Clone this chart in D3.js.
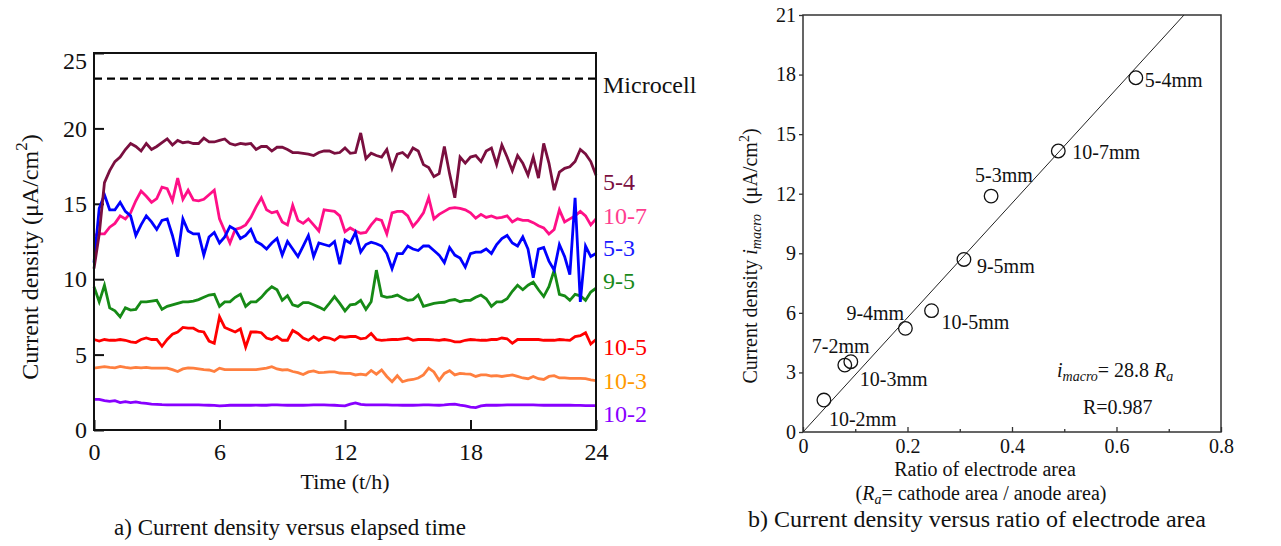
<!DOCTYPE html>
<html>
<head>
<meta charset="utf-8">
<script src="https://cdn.jsdelivr.net/npm/d3@7"></script>
<style>
  body { margin: 0; background: #fff; }
  svg { display: block; }
  text { font-family: "Liberation Serif", "Times New Roman", serif; fill: #111; }
</style>
</head>
<body>
<svg id="chart" width="1281" height="546"></svg>
<script>
// ---------- data: panel a (current density vs time, every 0.25 h) ----------
const hours = d3.range(0, 24.001, 0.25);
const microcell = 23.3;

const cur54 = [
  10.7, 13.0, 16.4, 17.2, 17.8, 18.1, 18.6, 19.0,
  18.8, 18.5, 19.0, 18.6, 18.8, 19.05, 19.3, 18.9,
  19.2, 19.05, 19.1, 19.0, 19.0, 19.35, 19.1, 19.1,
  19.2, 19.3, 19.0, 18.9, 19.0, 18.95, 19.0, 18.6,
  18.8, 18.8, 18.5, 18.75, 18.75, 18.6, 18.4, 18.4,
  18.35, 18.3, 18.2, 18.4, 18.5, 18.5, 18.35, 18.4,
  18.7, 18.35, 18.4, 19.7, 18.0, 18.35, 18.2, 18.1,
  18.6, 17.35, 18.3, 18.4, 18.1, 18.7, 18.5, 17.6,
  17.4, 16.8, 17.0, 18.8, 17.0, 15.4, 18.1, 17.7,
  18.1, 18.2, 17.8, 18.5, 18.7, 17.6, 18.9, 18.1,
  17.2, 18.2, 17.7, 16.9, 18.1, 16.7, 19.0, 17.7,
  15.9, 17.1, 17.35, 17.45, 17.8, 18.6, 18.3, 17.8,
  16.9];
const cur107 = [
  12.9, 13.0, 13.0, 13.45, 13.7, 14.2, 14.0, 14.4,
  15.2, 15.85, 15.5, 15.1, 15.35, 16.1, 16.0, 15.2,
  16.7, 15.3, 15.9, 15.25, 15.2, 15.3, 15.6, 15.9,
  14.0, 13.2, 12.4, 13.3, 13.4, 13.6, 14.1, 14.8,
  15.4, 14.6, 14.4, 14.5, 13.8, 13.6, 14.9, 13.9,
  13.7, 14.0, 13.6, 13.2, 14.6, 14.55, 14.5, 14.2,
  13.15, 13.4, 13.2, 13.05, 13.1, 13.6, 14.0, 13.9,
  13.0, 14.4, 14.5, 14.5, 14.2, 13.5, 13.9, 14.4,
  15.4, 14.0, 14.3, 14.5, 14.7, 14.75, 14.7, 14.6,
  14.4, 14.05, 14.3, 14.1, 14.2, 14.05, 14.1, 14.2,
  13.8, 14.0, 13.9, 13.9, 13.75, 13.55, 13.4, 13.0,
  13.3, 14.6, 13.8, 14.0, 14.2, 14.5, 14.2, 13.6,
  14.0];
const cur53 = [
  11.1, 14.7, 15.6, 14.6, 14.6, 15.1, 14.5, 14.2,
  12.9, 13.6, 14.2, 13.8, 13.3, 13.9, 14.0, 12.9,
  11.5, 14.0, 13.2, 13.0, 13.0, 11.6, 12.8, 13.1,
  12.4, 12.8, 13.5, 13.3, 12.7, 12.9, 13.3, 12.5,
  12.3, 12.0, 12.4, 12.7, 11.6, 12.5, 12.0, 11.5,
  12.2, 12.9, 11.5, 12.4, 12.3, 12.2, 12.5, 11.0,
  12.6, 12.4, 13.1, 11.8, 12.3, 12.45, 12.35, 12.2,
  11.7, 10.7, 11.7, 11.7, 12.2, 12.0, 11.9, 12.2,
  12.2, 11.9, 11.6, 11.1, 12.1, 11.6, 11.4, 10.8,
  11.7, 11.8, 11.8, 12.0, 11.7, 12.3, 12.7, 12.9,
  12.4, 12.2, 12.8, 12.0, 10.1, 12.0, 12.1, 11.2,
  10.6, 12.3, 11.5, 10.3, 15.4, 8.5, 12.2, 11.5,
  11.7];
const cur95 = [
  9.5, 8.5, 9.6, 8.1, 7.9, 7.5, 8.1, 7.95,
  8.0, 8.5, 8.5, 8.55, 8.6, 8.0, 8.2, 8.3,
  8.4, 8.5, 8.5, 8.55, 8.65, 8.8, 8.95, 9.0,
  8.2, 8.5, 8.5, 8.8, 9.0, 8.2, 8.5, 8.5,
  8.8, 9.2, 9.5, 9.3, 8.6, 8.9, 8.3, 8.2,
  8.45, 8.45, 8.3, 8.15, 7.97, 8.4, 8.85, 8.4,
  7.9, 8.3, 8.35, 8.6, 8.0, 8.5, 10.6, 8.9,
  8.8, 8.85, 8.95, 8.75, 8.6, 8.65, 8.95, 8.2,
  8.3, 8.4, 8.45, 8.47, 8.6, 8.65, 8.5, 8.6,
  8.6, 8.8, 8.95, 8.7, 8.2, 8.5, 8.5, 8.7,
  9.2, 9.6, 9.3, 9.6, 9.8, 9.3, 8.85, 9.5,
  10.6, 9.0, 8.9, 8.6, 9.0, 8.9, 8.6, 9.15,
  9.4];
const cur105 = [
  6.0, 5.9, 6.0, 5.95, 5.95, 6.0, 5.95, 5.85,
  5.8, 6.0, 6.1, 6.0, 6.0, 5.55, 6.0, 6.35,
  6.5, 6.8, 6.75, 6.75, 6.55, 6.5, 5.9, 5.75,
  7.5, 6.8, 6.65, 6.5, 6.7, 5.5, 6.5, 6.5,
  6.45, 6.1, 6.0, 6.2, 5.95, 5.95, 6.6, 6.4,
  6.1, 5.95, 6.2, 5.95, 6.15, 6.1, 5.95, 6.2,
  6.15, 6.2, 6.2, 6.05, 6.1, 6.4, 6.0, 5.95,
  5.97, 6.0, 6.0, 6.05, 6.1, 5.95, 6.0, 6.0,
  6.0, 5.97, 5.95, 6.0, 5.95, 5.85, 5.85, 5.95,
  6.0, 5.97, 5.95, 5.95, 6.0, 6.0, 6.1, 6.05,
  5.75, 6.0, 6.0, 6.0, 6.0, 6.0, 5.95, 5.95,
  5.95, 6.0, 5.97, 5.95, 6.2, 6.25, 6.45, 5.7,
  6.0];
const cur103 = [
  4.1, 4.15, 4.2, 4.15, 4.12, 4.22, 4.15, 4.1,
  4.15, 4.12, 4.15, 4.1, 4.1, 4.1, 4.1, 4.0,
  3.88, 4.05, 4.12, 4.1, 4.05, 4.0, 3.98, 3.88,
  4.1, 4.0, 4.0, 4.0, 4.0, 4.0, 4.0, 4.0,
  4.05, 4.1, 4.2, 4.05, 3.98, 4.0, 3.88, 3.8,
  3.68, 3.85, 3.92, 3.8, 3.82, 3.85, 3.85, 3.78,
  3.75, 3.75, 3.65, 3.7, 3.65, 3.95, 3.7, 3.98,
  3.55, 3.2, 3.6, 3.2, 3.3, 3.35, 3.45, 3.65,
  4.1, 3.85, 3.3, 3.75, 3.93, 3.65, 3.75, 3.72,
  3.7, 3.55, 3.65, 3.65, 3.58, 3.6, 3.55, 3.6,
  3.65, 3.55, 3.45, 3.4, 3.55, 3.4, 3.35, 3.55,
  3.6, 3.45, 3.45, 3.43, 3.43, 3.43, 3.4, 3.32,
  3.27];
const cur102 = [
  2.03, 2.03, 1.95, 1.9, 1.95, 1.82, 1.88, 1.82,
  1.86, 1.8, 1.77, 1.72, 1.7, 1.68, 1.67, 1.66,
  1.66, 1.67, 1.66, 1.66, 1.66, 1.65, 1.64, 1.63,
  1.6, 1.62, 1.64, 1.64, 1.64, 1.64, 1.64, 1.65,
  1.64, 1.64, 1.66, 1.66, 1.65, 1.64, 1.64, 1.65,
  1.64, 1.65, 1.66, 1.66, 1.66, 1.65, 1.64, 1.62,
  1.6, 1.72, 1.8, 1.7, 1.66, 1.66, 1.66, 1.66,
  1.66, 1.65, 1.65, 1.64, 1.64, 1.64, 1.65, 1.66,
  1.66, 1.65, 1.64, 1.66, 1.7, 1.72, 1.65, 1.6,
  1.52, 1.48, 1.6, 1.64, 1.64, 1.64, 1.65, 1.66,
  1.66, 1.66, 1.66, 1.66, 1.66, 1.65, 1.64, 1.64,
  1.64, 1.64, 1.64, 1.64, 1.63, 1.63, 1.62, 1.62,
  1.62];

const seriesNames = ["10-2", "10-3", "10-5", "9-5", "10-7", "5-3", "5-4"];
const seriesValues = [cur102, cur103, cur105, cur95, cur107, cur53, cur54];
const lineColors  = ["#8800ff", "#ff7f3f", "#ff0000", "#168a16", "#ff0f87", "#0000ff", "#7a0f3f"];
const labelColors = ["#8800ff", "#ff9a00", "#ff0000", "#1a8a1a", "#ff3d8f", "#1a1aff", "#7a0f3f"];
const labelLevels = [1.1, 3.3, 5.5, 9.9, 14.2, 12.1, 16.5];

// ---------- data: panel b (current density vs electrode area ratio) ----------
const pairNames = ["10-2mm", "7-2mm", "10-3mm", "9-4mm", "10-5mm", "9-5mm", "5-3mm", "10-7mm", "5-4mm"];
const areaRatio = [0.040, 0.080, 0.0915, 0.196, 0.246, 0.308, 0.360, 0.4886, 0.637];
const macroDensity = [1.61, 3.37, 3.54, 5.22, 6.11, 8.69, 11.88, 14.15, 17.84];
const fitSlope = 28.8;
const fitR = 0.987;

const svg = d3.select("#chart");

// =================== panel a ===================
const pa = { left: 94, right: 596, top: 53, bottom: 430 };
const x = d3.scaleLinear().domain([0, 24]).range([pa.left, pa.right]);
const y = d3.scaleLinear().domain([0, 25]).range([pa.bottom, pa.top]);

// axes with inward ticks
const gxa = svg.append("g")
  .attr("transform", "translate(0," + pa.bottom + ")")
  .call(d3.axisBottom(x).tickValues([0, 6, 12, 18, 24]).tickSize(-10).tickPadding(13));
const gya = svg.append("g")
  .attr("transform", "translate(" + pa.left + ",0)")
  .call(d3.axisLeft(y).tickValues([0, 5, 10, 15, 20, 25]).tickSize(-10).tickPadding(7));
[gxa, gya].forEach(g => {
  g.select(".domain").remove();
  g.selectAll(".tick line").attr("stroke", "#111").attr("stroke-width", 2);
  g.selectAll(".tick text").style("font-size", "24px").attr("fill", "#111");
});
gya.selectAll(".tick text").filter(d => d === 25).attr("dy", "0.65em");

// series
const line = d3.line().x((d, i) => x(hours[i])).y(d => y(d));
seriesValues.forEach((vals, k) => {
  svg.append("path")
    .datum(vals)
    .attr("d", line)
    .attr("fill", "none")
    .attr("stroke", lineColors[k])
    .attr("stroke-width", 2.8)
    .attr("stroke-linejoin", "miter");
});

// microcell reference
svg.append("line")
  .attr("x1", x(0)).attr("x2", x(24))
  .attr("y1", y(microcell)).attr("y2", y(microcell))
  .attr("stroke", "#000").attr("stroke-width", 2.4)
  .attr("stroke-dasharray", "8,5");

svg.append("rect")
  .attr("x", pa.left).attr("y", pa.top)
  .attr("width", pa.right - pa.left).attr("height", pa.bottom - pa.top)
  .attr("fill", "none").attr("stroke", "#111").attr("stroke-width", 2);

// right-hand labels
svg.append("text").attr("x", pa.right + 7).attr("y", y(microcell) + 6).attr("dy", "0.35em")
  .style("font-size", "24px").text("Microcell");
seriesNames.forEach((n, k) => {
  svg.append("text")
    .attr("x", pa.right + 7).attr("y", y(labelLevels[k])).attr("dy", "0.35em")
    .style("font-size", "24px").style("fill", labelColors[k])
    .text(n);
});

// axis titles
svg.append("text").attr("x", (pa.left + pa.right) / 2).attr("y", 489)
  .attr("text-anchor", "middle").style("font-size", "22px").text("Time (t/h)");
const yta = svg.append("text")
  .attr("transform", "translate(38,257) rotate(-90)")
  .attr("text-anchor", "middle").style("font-size", "24px");
yta.append("tspan").text("Current density (\u03bcA/cm");
yta.append("tspan").style("font-size", "17px").attr("dy", -11).text("2");
yta.append("tspan").attr("dy", 11).text(")");

svg.append("text").attr("x", 290).attr("y", 535)
  .attr("text-anchor", "middle").style("font-size", "23px")
  .text("a) Current density versus elapsed time");

// =================== panel b ===================
const pb = { left: 803, right: 1221, top: 15, bottom: 432 };
const xr = d3.scaleLinear().domain([0, 0.8]).range([pb.left, pb.right]);
const yr = d3.scaleLinear().domain([0, 21]).range([pb.bottom, pb.top]);

const gxb = svg.append("g")
  .attr("transform", "translate(0," + pb.bottom + ")")
  .call(d3.axisBottom(xr).tickValues([0, 0.2, 0.4, 0.6, 0.8]).tickSize(-5).tickPadding(7)
    .tickFormat(d => d === 0 ? "0" : d3.format(".1f")(d)));
const gxbMinor = svg.append("g")
  .attr("transform", "translate(0," + pb.bottom + ")")
  .call(d3.axisBottom(xr).tickValues([0.1, 0.3, 0.5, 0.7]).tickSize(-3).tickFormat(""));
const gyb = svg.append("g")
  .attr("transform", "translate(" + pb.left + ",0)")
  .call(d3.axisLeft(yr).tickValues(d3.range(0, 22, 3)).tickSize(4).tickPadding(3));
[gxb, gxbMinor, gyb].forEach(g => {
  g.select(".domain").remove();
  g.selectAll(".tick line").attr("stroke", "#333").attr("stroke-width", 1.3);
  g.selectAll(".tick text").style("font-size", "20px").attr("fill", "#111");
});

svg.append("rect")
  .attr("x", pb.left).attr("y", pb.top)
  .attr("width", pb.right - pb.left).attr("height", pb.bottom - pb.top)
  .attr("fill", "none").attr("stroke", "#333").attr("stroke-width", 1.5);

// fitted line i = 28.8 Ra, drawn up to the top of the frame
const fitEnd = yr.domain()[1] / fitSlope;
svg.append("line")
  .attr("x1", xr(0)).attr("y1", yr(0))
  .attr("x2", xr(fitEnd)).attr("y2", yr(fitSlope * fitEnd))
  .attr("stroke", "#222").attr("stroke-width", 1);

svg.selectAll("circle.pt")
  .data(areaRatio)
  .enter().append("circle")
  .attr("class", "pt")
  .attr("cx", d => xr(d))
  .attr("cy", (d, i) => yr(macroDensity[i]))
  .attr("r", 6.8)
  .attr("fill", "none").attr("stroke", "#111").attr("stroke-width", 1.3);

// label offsets in px from each point
const labelDx = [5, -33, 9, -59, 10, 13, -16, 14, 9];
const labelDy = [26, -12, 24, -8, 18, 14, -14, 8, 9];
pairNames.forEach((n, i) => {
  svg.append("text")
    .attr("x", xr(areaRatio[i]) + labelDx[i])
    .attr("y", yr(macroDensity[i]) + labelDy[i])
    .style("font-size", "20px").text(n);
});

// fit equation
const eq = svg.append("text").attr("x", 1057).attr("y", 377).style("font-size", "20px");
eq.append("tspan").style("font-style", "italic").text("i");
eq.append("tspan").style("font-style", "italic").style("font-size", "14px").attr("dy", 4).text("macro");
eq.append("tspan").attr("dy", -4).text("= " + fitSlope + " ");
eq.append("tspan").style("font-style", "italic").text("R");
eq.append("tspan").style("font-style", "italic").style("font-size", "14px").attr("dy", 4).text("a");
svg.append("text").attr("x", 1083).attr("y", 414).style("font-size", "20px").text("R=" + fitR);

// axis titles
svg.append("text").attr("x", 985).attr("y", 476)
  .attr("text-anchor", "middle").style("font-size", "20px").text("Ratio of electrode area");
const xt2 = svg.append("text").attr("x", 981).attr("y", 500)
  .attr("text-anchor", "middle").style("font-size", "20px");
xt2.append("tspan").text("(");
xt2.append("tspan").style("font-style", "italic").text("R");
xt2.append("tspan").style("font-style", "italic").style("font-size", "14px").attr("dy", 4).text("a");
xt2.append("tspan").attr("dy", -4).text("= cathode area / anode area)");

const ytb = svg.append("text")
  .attr("transform", "translate(757,256) rotate(-90)")
  .attr("text-anchor", "middle").style("font-size", "20px");
ytb.append("tspan").text("Current density ");
ytb.append("tspan").style("font-style", "italic").text("i");
ytb.append("tspan").style("font-style", "italic").style("font-size", "14px").attr("dy", 4).text("macro");
ytb.append("tspan").attr("dy", -4).text("\u00a0\u00a0(\u03bcA/cm");
ytb.append("tspan").style("font-size", "14px").attr("dy", -8).text("2");
ytb.append("tspan").attr("dy", 8).text(")");

svg.append("text").attr("x", 977).attr("y", 527)
  .attr("text-anchor", "middle").style("font-size", "24px")
  .text("b) Current density versus ratio of electrode area");
</script>
</body>
</html>
